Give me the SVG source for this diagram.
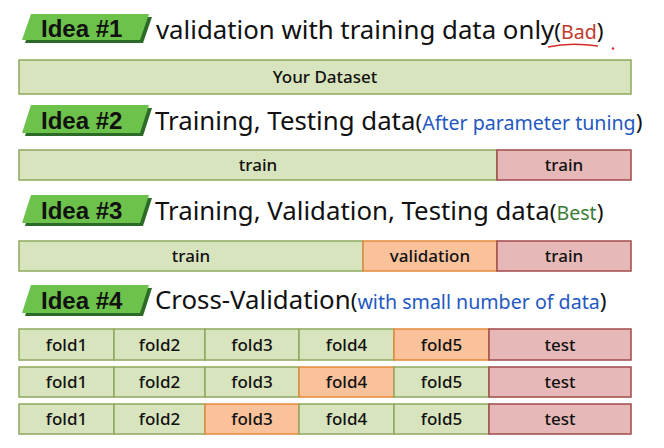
<svg xmlns="http://www.w3.org/2000/svg" width="664" height="448" viewBox="0 0 664 448">
<style>
.g{fill:#d8e4bd;stroke:#8ea85e;stroke-width:1.5}
.p{fill:#e6b9b8;stroke:#a04a4a;stroke-width:1.5}
.o{fill:#f9c29b;stroke:#e5893c;stroke-width:1.5}
.bt{font-family:"Noto Sans","Liberation Sans",sans-serif;font-size:17px;font-weight:500;fill:#111;text-anchor:middle}
.badge{fill:#6cc24a}
.shadow{fill:#2c6a27}
.bl{font-family:"Liberation Sans",Arial,sans-serif;font-size:24px;font-weight:bold;fill:#111}
.tt{font-family:"Noto Sans","Liberation Sans",sans-serif;font-size:25.8px;fill:#111}
.sm{font-size:19.6px}
.par{font-size:22.5px}
</style>
<rect width="664" height="448" fill="#fff"/>

<g id="idea1">
  <polygon class="shadow" points="34,17 152,17 143,43 25,43"/>
  <polygon class="badge" points="31,14 149,14 140,40 22,40"/>
  <text class="bl" x="41" y="37">Idea #1</text>
  <text class="tt" x="156" y="39">validation with training data only<tspan class="par">(</tspan><tspan class="sm" fill="#c0392b">Bad</tspan><tspan class="par">)</tspan></text>
  <path d="M548,47 Q570,42 598,46" fill="none" stroke="#d42a2a" stroke-width="1.6"/>
  <circle cx="613" cy="48.5" r="1.2" fill="#d42a2a"/>
</g>
<g id="dataset">
  <rect class="g" x="19" y="60" width="612" height="34"/>
  <text class="bt" x="325" y="83">Your Dataset</text>
</g>

<g id="idea2">
  <polygon class="shadow" points="34,108 152,108 143,136 25,136"/>
  <polygon class="badge" points="31,105 149,105 140,133 22,133"/>
  <text class="bl" x="41" y="129">Idea #2</text>
  <text class="tt" x="155" y="130">Training, Testing data<tspan class="par">(</tspan><tspan class="sm" fill="#2458c2">After parameter tuning</tspan><tspan class="par">)</tspan></text>
</g>
<g id="bar2">
  <rect class="g" x="19" y="150" width="478" height="30"/>
  <rect class="p" x="497" y="150" width="134" height="30"/>
  <text class="bt" x="258" y="171">train</text>
  <text class="bt" x="564" y="171">train</text>
</g>

<g id="idea3">
  <polygon class="shadow" points="34,198 152,198 143,226 25,226"/>
  <polygon class="badge" points="31,195 149,195 140,223 22,223"/>
  <text class="bl" x="41" y="219">Idea #3</text>
  <text class="tt" x="155" y="220">Training, Validation, Testing data<tspan class="par">(</tspan><tspan class="sm" fill="#3d7d38">Best</tspan><tspan class="par">)</tspan></text>
</g>
<g id="bar3">
  <rect class="g" x="19" y="241" width="344" height="30"/>
  <rect class="o" x="363" y="241" width="134" height="30"/>
  <rect class="p" x="497" y="241" width="134" height="30"/>
  <text class="bt" x="191" y="262">train</text>
  <text class="bt" x="430" y="262">validation</text>
  <text class="bt" x="564" y="262">train</text>
</g>

<g id="idea4">
  <polygon class="shadow" points="34,288 152,288 143,316 25,316"/>
  <polygon class="badge" points="31,285 149,285 140,313 22,313"/>
  <text class="bl" x="41" y="309">Idea #4</text>
  <text class="tt" x="155" y="309">Cross-Validation<tspan class="par">(</tspan><tspan class="sm" fill="#2458c2">with small number of data</tspan><tspan class="par">)</tspan></text>
</g>
<g id="cv1">
  <rect class="g" x="19" y="329" width="95" height="31"/>
  <rect class="g" x="114" y="329" width="91" height="31"/>
  <rect class="g" x="205" y="329" width="94" height="31"/>
  <rect class="g" x="299" y="329" width="95" height="31"/>
  <rect class="o" x="394" y="329" width="95" height="31"/>
  <rect class="p" x="489" y="329" width="142" height="31"/>
  <text class="bt" x="66.5" y="350.5">fold1</text>
  <text class="bt" x="159.5" y="350.5">fold2</text>
  <text class="bt" x="252" y="350.5">fold3</text>
  <text class="bt" x="346.5" y="350.5">fold4</text>
  <text class="bt" x="441.5" y="350.5">fold5</text>
  <text class="bt" x="560" y="350.5">test</text>
</g>
<g id="cv2">
  <rect class="g" x="19" y="367" width="95" height="30"/>
  <rect class="g" x="114" y="367" width="91" height="30"/>
  <rect class="g" x="205" y="367" width="94" height="30"/>
  <rect class="o" x="299" y="367" width="95" height="30"/>
  <rect class="g" x="394" y="367" width="95" height="30"/>
  <rect class="p" x="489" y="367" width="142" height="30"/>
  <text class="bt" x="66.5" y="388">fold1</text>
  <text class="bt" x="159.5" y="388">fold2</text>
  <text class="bt" x="252" y="388">fold3</text>
  <text class="bt" x="346.5" y="388">fold4</text>
  <text class="bt" x="441.5" y="388">fold5</text>
  <text class="bt" x="560" y="388">test</text>
</g>
<g id="cv3">
  <rect class="g" x="19" y="404" width="95" height="30"/>
  <rect class="g" x="114" y="404" width="91" height="30"/>
  <rect class="o" x="205" y="404" width="94" height="30"/>
  <rect class="g" x="299" y="404" width="95" height="30"/>
  <rect class="g" x="394" y="404" width="95" height="30"/>
  <rect class="p" x="489" y="404" width="142" height="30"/>
  <text class="bt" x="66.5" y="425">fold1</text>
  <text class="bt" x="159.5" y="425">fold2</text>
  <text class="bt" x="252" y="425">fold3</text>
  <text class="bt" x="346.5" y="425">fold4</text>
  <text class="bt" x="441.5" y="425">fold5</text>
  <text class="bt" x="560" y="425">test</text>
</g>
<g id="connectors"></g>
</svg>
